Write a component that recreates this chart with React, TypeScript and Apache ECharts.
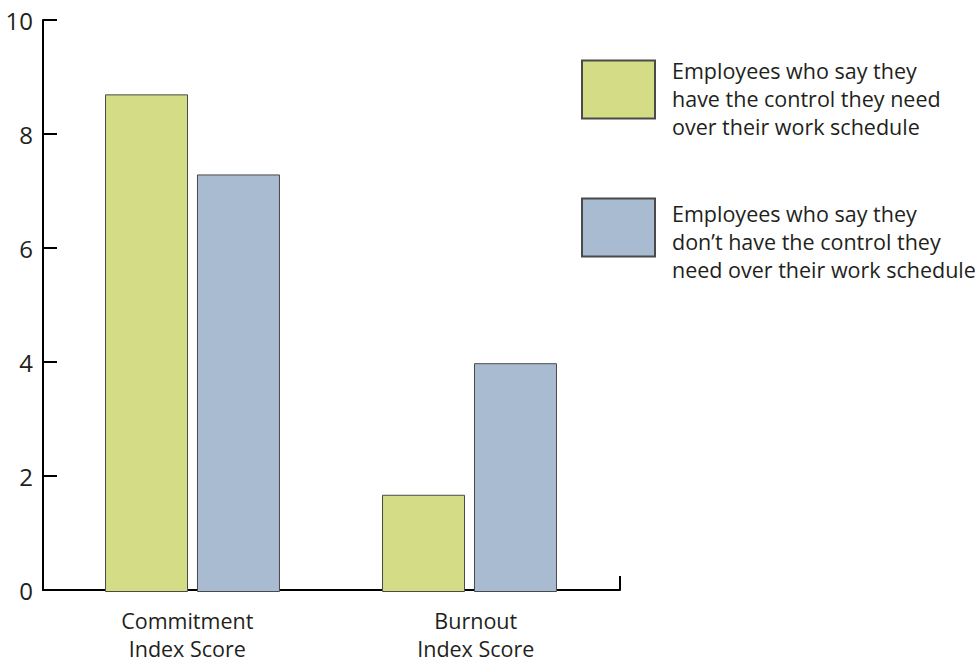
import React, { useEffect, useRef } from 'react';
import * as echarts from 'echarts';

const categories = ['Commitment\nIndex Score', 'Burnout\nIndex Score'];
const seriesNames = [
  'Employees who say they\nhave the control they need\nover their work schedule',
  'Employees who say they\ndon\u2019t have the control they\nneed over their work schedule',
];
const withControl = [8.7, 1.7];
const withoutControl = [7.3, 4.0];
const yMin = 0;
const yMax = 10;
const yStep = 2;

const FONT = '"Open Sans", "Noto Sans", sans-serif';
const TEXT = '#231f20';
const GREEN = '#d4dc86';
const BLUE = '#a8bbd1';
const EDGE = '#4a4a4a';

export default function App() {
  const ref = useRef<HTMLDivElement>(null);
  useEffect(() => {
    document.body.style.margin = '0';
    const chart = echarts.init(ref.current!, null, { renderer: 'svg' });
    const legendOf = (idx: number, top: number, pad: number) => ({
      data: [seriesNames[idx]],
      left: 581,
      top,
      padding: 0,
      orient: 'vertical',
      itemWidth: 73,
      itemHeight: 58,
      icon: 'rect',
      selectedMode: false,
      formatter: (name: string) =>
        '{pad| }\n' + name.split('\n').map((l) => `{t|${l}}`).join('\n'),
      textStyle: {
        fontFamily: FONT,
        fontSize: 21.5,
        color: TEXT,
        rich: {
          pad: { fontSize: 1, lineHeight: pad },
          t: {
            fontFamily: FONT,
            fontSize: 21.5,
            lineHeight: 28,
            color: TEXT,
            padding: [0, 0, 0, 12],
          },
        },
      },
    });
    chart.setOption({
      animation: false,
      backgroundColor: '#ffffff',
      textStyle: { fontFamily: FONT, color: TEXT },
      grid: [
        { left: 43, right: 355, top: 20, bottom: 70, containLabel: false },
        { left: 54, right: 367, top: 20, bottom: 70, containLabel: false },
      ],
      legend: [legendOf(0, 47, 18), legendOf(1, 185, 28)],
      xAxis: [
        {
          type: 'category',
          gridIndex: 0,
          data: categories,
          axisLine: { show: true, lineStyle: { color: '#000', width: 2 } },
          axisTick: {
            show: true,
            inside: true,
            length: 14,
            interval: (i: number) => i === 0,
            lineStyle: { color: '#000', width: 2 },
          },
          axisLabel: {
            margin: 16,
            fontFamily: FONT,
            fontSize: 21.5,
            lineHeight: 28,
            color: TEXT,
            interval: 0,
          },
        },
        {
          type: 'category',
          gridIndex: 1,
          data: categories,
          show: false,
        },
      ],
      yAxis: [
        {
          type: 'value',
          gridIndex: 0,
          min: yMin,
          max: yMax,
          interval: yStep,
          axisLine: { show: true, lineStyle: { color: '#000', width: 2 } },
          axisTick: { show: true, inside: true, length: 14, lineStyle: { color: '#000', width: 2 } },
          axisLabel: { margin: 10, fontFamily: FONT, fontSize: 24, color: TEXT },
          splitLine: { show: false },
        },
        {
          type: 'value',
          gridIndex: 1,
          min: yMin,
          max: yMax,
          interval: yStep,
          show: false,
          splitLine: { show: false },
        },
      ],
      series: [
        {
          name: seriesNames[0],
          type: 'bar',
          xAxisIndex: 1,
          yAxisIndex: 1,
          data: withControl,
          barWidth: 83,
          barGap: '10.8%',
          itemStyle: { color: GREEN, borderColor: EDGE, borderWidth: 1 },
        },
        {
          name: seriesNames[1],
          type: 'bar',
          xAxisIndex: 1,
          yAxisIndex: 1,
          data: withoutControl,
          barWidth: 83,
          barGap: '10.8%',
          itemStyle: { color: BLUE, borderColor: EDGE, borderWidth: 1 },
        },
      ],
    });
    return () => chart.dispose();
  }, []);
  return <div ref={ref} style={{ width: 975, height: 662, position: 'absolute', left: 0, top: 0 }} />;
}
